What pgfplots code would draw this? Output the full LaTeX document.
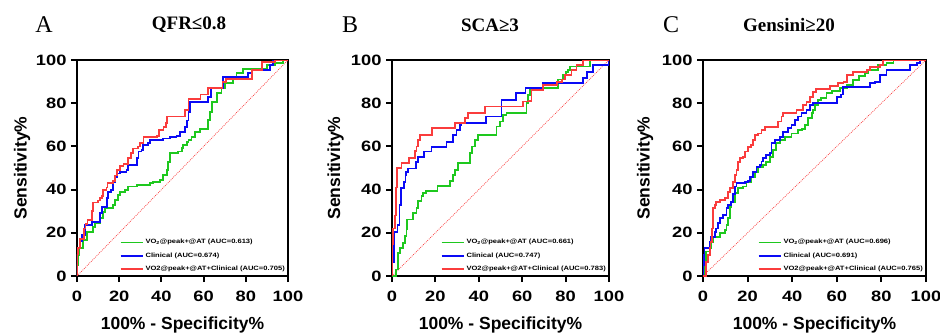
\documentclass[border=0pt]{standalone}
\usepackage{pgfplots}
\pgfplotsset{compat=1.18}
\usepackage{fontspec}
\setmainfont{Liberation Sans}
\newfontfamily\seriffont{Liberation Serif}
\newfontfamily\tickfont[FakeStretch=1.22]{Liberation Sans}
\definecolor{cgreen}{RGB}{30,200,30}
\definecolor{cblue}{RGB}{10,10,245}
\definecolor{cred}{RGB}{250,60,60}
\pgfplotsset{
  rocaxis/.style={
    scale only axis,
    xmin=0,xmax=100,ymin=0,ymax=100,
    xtick={0,20,40,60,80,100}, ytick={0,20,40,60,80,100},
    tick align=outside, tick pos=left,
    major tick length=6pt,
    every tick/.style={black,line width=2pt},
    axis line style={line width=2.3pt},
    /pgf/number format/assume math mode=true,
    ticklabel style={font=\tickfont\bfseries\fontsize{15}{15}\selectfont},
    xticklabel style={yshift=-5pt},
    yticklabel style={xshift=-1pt},
    xlabel={100\% - Specificity\%},
    ylabel={Sensitivity\%},
    every axis x label/.style={at={(axis description cs:0.5,-0.225)},anchor=center,
      font=\bfseries\fontsize{17.5}{17.5}\selectfont},
    every axis y label/.style={at={(axis description cs:-0.26,0.5)},anchor=center,rotate=90,
      font=\bfseries\fontsize{17.5}{17.5}\selectfont},
    legend cell align=left,
    legend style={at={(axis description cs:1,0)},anchor=south east,draw=none,fill=none,
      font=\tickfont\bfseries\fontsize{6.2}{6.2}\selectfont, row sep=3.2pt,
      inner xsep=1pt, inner ysep=2pt},
    legend image code/.code={\draw[#1,line width=1.8pt] (0pt,0pt) -- (22pt,0pt);},
  },
  roc/.style={color=#1, const plot, line width=1.8pt, line join=miter},
  diag/.style={cred, line width=0.7pt, dash pattern=on 0.9pt off 1.1pt, forget plot, sharp plot},
}
\begin{document}
\begin{tikzpicture}
\path[use as bounding box] (0,0) rectangle (940pt,-334pt);
% titles
\node[font=\seriffont\fontsize{24}{24}\selectfont] at (44pt,-25pt) {A};
\node[font=\seriffont\bfseries\fontsize{19}{19}\selectfont] at (189pt,-25pt) {QFR≤0.8};
\node[font=\seriffont\fontsize{24}{24}\selectfont] at (350pt,-25pt) {B};
\node[font=\seriffont\bfseries\fontsize{19}{19}\selectfont] at (490pt,-25pt) {SCA≥3};
\node[font=\seriffont\fontsize{24}{24}\selectfont] at (671pt,-25pt) {C};
\node[font=\seriffont\bfseries\fontsize{19}{19}\selectfont] at (789pt,-25pt) {Gensini≥20};

% Panel A
\begin{axis}[rocaxis, at={(77pt,-276pt)}, anchor=south west, width=211pt, height=216pt]
\addplot[diag] coordinates {(0,0)(100,100)};
\addplot[roc=cgreen] coordinates {(0,0)(0,5)(0.5,9.7)(1.1,12.8)(2,12.8)(3,16.7)(4.6,20.5)(6.2,20.5)(7.7,22.8)(8.5,24.4)(9.5,24.4)(10.9,26.7)(12.5,29.8)(13.3,31.3)(15.6,31.3)(17.2,32.9)(18,35.2)(19.6,37.5)(20.4,39)(22.7,39.8)(24.3,41.4)(28.3,42.1)(34.6,42.9)(36.2,43.7)(39.3,44.4)(40.9,46.8)(42.5,49)(43.3,52.9)(44.1,56.8)(48,57.6)(49.6,59.1)(50.4,60.6)(52,62.2)(52.8,63)(54.3,64.5)(55.9,66.8)(58.3,68)(60,68)(62.2,72.2)(63,76)(63.8,80.7)(66.2,84.6)(68.5,86.9)(70.1,89.2)(74,91.5)(75.6,93.8)(78.8,96)(89,96)(90,97.8)(94,98.5)(97.6,100)(100,100)};
\addlegendentry{VO\textsubscript{2}@peak+@AT (AUC=0.613)}
\addplot[roc=cblue] coordinates {(0,0)(0,10)(0.5,13)(1.5,13)(1.5,16)(2.5,16)(2.5,19)(3.8,19)(3.8,23.6)(7,23.6)(7,25)(9,25)(10.9,29)(11.7,32)(13,32)(14.1,36)(14.8,39)(16,40)(17.2,43.7)(18,46)(18.8,47.5)(20.4,48.3)(23.5,49)(24.3,51.4)(28.3,54.5)(29.1,57.6)(30.6,58.3)(31.4,60.6)(33.8,61.4)(34.6,63)(40.9,63.7)(44.1,64.5)(47.2,65)(48.8,66.8)(51.2,69)(52,72)(52.8,76)(53.5,80.7)(61.5,80.7)(62,83)(63.5,86.9)(68.5,86.9)(69.3,92.2)(80,92.2)(81,94)(83,95.4)(91,95.4)(91.5,97.7)(92.5,97.7)(93,100)(100,100)};
\addlegendentry{Clinical (AUC=0.674)}
\addplot[roc=cred] coordinates {(0,0)(0,10)(0.5,13)(1,13)(1.5,17)(3,17)(3.5,22)(4,24)(5,26)(6,26)(7,30)(7.5,34)(9,34)(10,35)(11,36)(12,37)(12.5,40)(14,41)(14.5,43)(17,44)(18,46.5)(19,49)(20.5,51)(22,52)(24,54.5)(25.5,57)(26.5,59)(29,60)(30,61.5)(31.5,64.5)(38,65)(39,67.5)(41,69)(42,71)(42.5,73.8)(50.4,73.8)(51,77)(52.8,82)(58,82)(58.5,84)(61.5,84)(62.2,86.9)(68.5,86.9)(69,89.9)(70,89.9)(70.5,91.2)(82.8,91.2)(83,95.4)(87.2,95.4)(87.5,99.2)(93.5,99.2)(94,100)(100,100)};
\addlegendentry{VO2@peak+@AT+Clinical (AUC=0.705)}
\end{axis}

% Panel B
\begin{axis}[rocaxis, at={(392pt,-276pt)}, anchor=south west, width=217pt, height=216pt]
\addplot[diag] coordinates {(0,0)(100,100)};
\addplot[roc=cgreen] coordinates {(0,0)(1.5,0)(2,3)(2.9,10.8)(3.7,13)(5.2,15.4)(6,18.5)(6.7,21.5)(7,26.2)(8.5,26.2)(9.8,29.2)(11.3,31.5)(12.1,34.6)(13.6,36.9)(14.4,38.5)(15.6,39.2)(20.6,39.2)(21,41.5)(25.9,41.5)(26.7,43.8)(28.2,46.9)(29,49.2)(30.5,52.3)(35.1,52.3)(35.9,56.9)(36.7,60)(38.2,63)(39.7,65.4)(47.4,65.4)(48.2,69.2)(49.7,71.5)(51.2,74.6)(52.8,75.4)(61.5,75.4)(62,80)(62.7,83.8)(63.5,86.9)(75,86.9)(76.5,91)(78.8,93)(80,94.6)(81.2,95.4)(82,97)(90.3,97)(91.2,100)(100,100)};
\addlegendentry{VO\textsubscript{2}@peak+@AT (AUC=0.661)}
\addplot[roc=cblue] coordinates {(0,0)(0,6.6)(0.5,6.6)(0.8,20.5)(2,20.5)(2.5,23.6)(3.1,23.6)(3.5,32.9)(4,37.5)(4.3,40.6)(5.5,43.7)(6.2,46.8)(6.6,48.3)(7.4,49.8)(10.5,49.8)(11.2,52.9)(12,55.2)(14.3,55.2)(14.8,57.6)(17.4,57.6)(18.2,59.9)(24.3,59.9)(25.1,62.2)(27.4,62.2)(28.2,65.3)(29.7,67.6)(31.2,70)(32,70.7)(42.8,70.7)(43.5,73.8)(49.7,73.8)(50.5,81.5)(55,81.5)(57,84.6)(61,84.6)(61.5,86.9)(69,86.9)(69.7,89.2)(87.4,89.2)(88.2,91.5)(89,91.5)(89.7,94.6)(92,94.6)(92.7,97.7)(99.7,97.7)(100,100)};
\addlegendentry{Clinical (AUC=0.747)}
\addplot[roc=cred] coordinates {(0,0)(0,15)(0.3,15.9)(0.5,22)(1.2,28)(1.7,37.5)(2,41)(2.2,50)(4.3,50)(4.4,52.3)(8,52.3)(8,54.6)(10,54.6)(10.6,57.7)(11.3,60)(12.1,63)(12.9,65.4)(17.5,65.4)(18.3,68.5)(28.2,68.5)(29,70.8)(33,70.8)(33.6,73)(35.1,75.4)(42,75.4)(42.8,78.5)(59.7,78.5)(60.4,80.8)(63,81)(64.3,86)(69,86)(69.6,88.5)(75,88.5)(76,90)(78.5,91)(79.6,93)(82.7,95.4)(85,97.7)(88,100)(100,100)};
\addlegendentry{VO2@peak+@AT+Clinical (AUC=0.783)}
\end{axis}

% Panel C
\begin{axis}[rocaxis, at={(703pt,-276pt)}, anchor=south west, width=223pt, height=216pt]
\addplot[diag] coordinates {(0,0)(100,100)};
\addplot[roc=cgreen] coordinates {(0,0)(0.5,5)(1.5,11.3)(3,12.8)(3.7,15.9)(4.5,18.2)(6.7,18.2)(7.5,19.8)(9,19.8)(9.7,21.3)(10.5,23.6)(11.2,26.7)(12,32.1)(12.7,34.4)(14.2,38.3)(15.7,40.6)(18,41.4)(19.5,43.7)(21.7,46)(23.2,48.3)(24.7,50.6)(26.9,51.4)(28.4,52.9)(29.9,55.2)(31.4,58.3)(32.9,61.4)(34.4,63)(36.7,64.5)(39.7,66)(42.7,67.6)(44.5,68)(45.7,69.9)(47.2,73)(48.7,75.3)(49.4,76.9)(50.2,79.2)(51.5,81.5)(53,82.5)(55.4,84.6)(58,85.5)(61.4,86.9)(64.4,88.4)(67.4,90.7)(70,92.5)(72.6,93.8)(74.2,95.4)(78.6,97.7)(82.3,98.5)(85.4,100)(100,100)};
\addlegendentry{VO\textsubscript{2}@peak+@AT (AUC=0.696)}
\addplot[roc=cblue] coordinates {(0,0)(0,5)(0.4,9.7)(0.7,12.8)(2,12.8)(3,15.9)(3.7,18.2)(4.5,18.2)(5.2,20.5)(6,22)(6.7,24.4)(7.5,26.7)(9,28.2)(10.5,31.3)(11.2,32.9)(12.7,34.4)(13.5,38)(14.2,41.4)(15,42.9)(18.7,43.7)(20,44)(21,46)(22.5,48.3)(24,50.6)(25.4,51.4)(26.2,53)(26.9,54.5)(28.4,56)(29.9,56.8)(30.7,61.4)(32.2,63)(34.4,64.5)(35.9,66.8)(38.2,68.4)(39.7,69.9)(41.2,72.2)(42.7,73.8)(44.2,75.3)(46.4,76.9)(47.9,79.2)(49.4,80.1)(58.4,80.1)(60,82.8)(62,84)(62.9,87.6)(74.2,87.6)(74.9,89.2)(77,90)(79.4,93)(82.3,95.4)(91.2,95.4)(92.7,97.7)(95.8,98.5)(97.3,100)(100,100)};
\addlegendentry{Clinical (AUC=0.691)}
\addplot[roc=cred] coordinates {(0,0)(1.5,6.6)(2.2,9.7)(3,12.8)(3.4,15.9)(4,22)(4.5,31.3)(5.2,32.9)(6,34.4)(7.5,35.2)(9.7,36)(11.2,39)(12,40.6)(13.5,43.7)(14.2,46.8)(15,49)(15.7,52.9)(16.5,54.5)(18,55.2)(18.7,57.6)(20.2,59.9)(21.5,60.6)(22.5,63)(23.2,65.3)(24.7,66)(26.2,67.6)(27.7,69.1)(33,69.1)(33.7,71.5)(35.2,73.8)(35.9,75.3)(41.2,75.3)(41.9,76.9)(44.9,79.2)(46.4,80.7)(47.9,83)(49.4,85.3)(50.5,86.5)(56,86.5)(57,88)(60.6,89.5)(63,90)(64.4,93)(67.4,94.6)(73.4,95.4)(75,96.9)(79.3,97.7)(80.8,100)(100,100)};
\addlegendentry{VO2@peak+@AT+Clinical (AUC=0.765)}
\end{axis}
\end{tikzpicture}
\end{document}
